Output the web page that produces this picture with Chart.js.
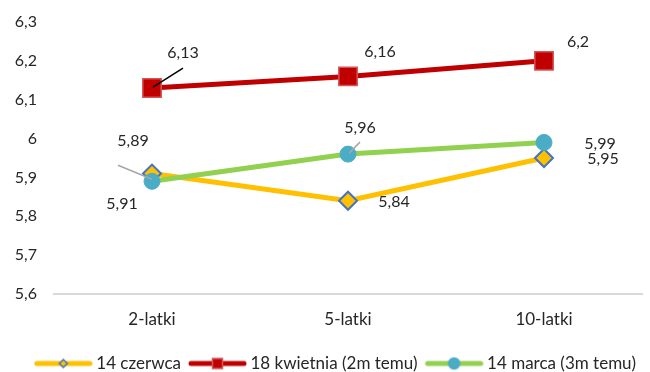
<!DOCTYPE html>
<html>
<head>
<meta charset="utf-8">
<script src="https://cdn.jsdelivr.net/npm/chart.js@4"></script>
<style>
  html, body { margin: 0; padding: 0; background: #fff; }
  #wrap { width: 650px; height: 372px; }
</style>
</head>
<body>
<div id="wrap"><canvas id="chart"></canvas></div>
<script>
var categories = ["2-latki", "5-latki", "10-latki"];
var seriesNames = ["14 czerwca", "18 kwietnia (2m temu)", "14 marca (3m temu)"];
var czerwiec = [5.91, 5.84, 5.95];
var kwiecien = [6.13, 6.16, 6.2];
var marzec = [5.89, 5.96, 5.99];
var yTicks = [5.6, 5.7, 5.8, 5.9, 6.0, 6.1, 6.2, 6.3];

// przesuniecia etykiet (dx, dy) i linie odniesienia
var labelOffsets = [
    [[-30, 30], [46, 1], [59, 1]],
    [[31, -35], [32, -25], [34, -19]],
    [[-19, -40], [12, -26], [56, 1]]
];
var leaders = [
    [null, null, null],
    [{from: [1, -1], to: [31, -20], color: "#000"}, null, null],
    [{from: [0, -2], to: [-34, -16], color: "#a6a6a6"}, {from: [1, -1], to: [12, -12], color: "#a6a6a6"}, null]
];

var FONT = "Lato";

function fmt(v) {
    return String(Math.round(v * 100) / 100).replace(".", ",");
}

// ikona legendy: linia + znacznik, przesunieta w prawo zeby tekst byl blisko
function legendIcon(color, style, fill, border, r) {
    var c = document.createElement("canvas");
    c.width = 65;
    c.height = 20;
    var ctx = c.getContext("2d");
    var x0 = 7, x1 = 64, cx = (x0 + x1) / 2;
    ctx.strokeStyle = color;
    ctx.lineWidth = 5;
    ctx.lineCap = "round";
    ctx.beginPath();
    ctx.moveTo(x0 + 2, 10);
    ctx.lineTo(x1 - 2, 10);
    ctx.stroke();
    ctx.fillStyle = fill;
    ctx.strokeStyle = border;
    ctx.lineWidth = 1.5;
    ctx.beginPath();
    if (style === "diamond") {
        ctx.moveTo(cx, 10 - r); ctx.lineTo(cx + r, 10); ctx.lineTo(cx, 10 + r); ctx.lineTo(cx - r, 10); ctx.closePath();
        ctx.fill();
    } else if (style === "square") {
        ctx.rect(cx - r, 10 - r, 2 * r, 2 * r);
        ctx.fill();
    } else {
        ctx.arc(cx, 10, r, 0, Math.PI * 2);
        ctx.fill();
    }
    ctx.stroke();
    return c;
}

var icons = [
    legendIcon("#FFC000", "diamond", "#FFC000", "#4472C4", 4),
    legendIcon("#C00000", "square", "#C00000", "#D45555", 5),
    legendIcon("#92D050", "circle", "#4BACC6", "#4BACC6", 5.5)
];

var dataLabels = {
    id: "dataLabels",
    afterDatasetsDraw: function(chart) {
        var ctx = chart.ctx;
        ctx.save();
        chart.data.datasets.forEach(function(ds, di) {
            var meta = chart.getDatasetMeta(di);
            meta.data.forEach(function(pt, i) {
                var ld = leaders[di][i];
                if (ld) {
                    ctx.strokeStyle = ld.color;
                    ctx.lineWidth = 1.5;
                    ctx.beginPath();
                    ctx.moveTo(pt.x + ld.from[0], pt.y + ld.from[1]);
                    ctx.lineTo(pt.x + ld.to[0], pt.y + ld.to[1]);
                    ctx.stroke();
                }
                var off = labelOffsets[di][i];
                ctx.fillStyle = "#262626";
                ctx.font = "16px " + FONT;
                ctx.textAlign = "center";
                ctx.textBaseline = "middle";
                ctx.fillText(fmt(ds.data[i]), pt.x + off[0], pt.y + off[1]);
            });
        });
        ctx.restore();
    }
};

new Chart(document.getElementById("chart"), {
    type: "line",
    data: {
        labels: categories,
        datasets: [{
            label: seriesNames[0],
            data: czerwiec,
            borderColor: "#FFC000",
            borderWidth: 5,
            pointStyle: "rectRot",
            pointRadius: 9,
            pointBackgroundColor: "#FFC000",
            pointBorderColor: "#4472C4",
            pointBorderWidth: 2,
            order: 2
        }, {
            label: seriesNames[1],
            data: kwiecien,
            borderColor: "#C00000",
            borderWidth: 5,
            pointStyle: "rect",
            pointRadius: 13,
            pointBackgroundColor: "#C00000",
            pointBorderColor: "#D45555",
            pointBorderWidth: 1.5,
            order: 1
        }, {
            label: seriesNames[2],
            data: marzec,
            borderColor: "#92D050",
            borderWidth: 5,
            pointStyle: "circle",
            pointRadius: 8,
            pointBackgroundColor: "#4BACC6",
            pointBorderColor: "#4BACC6",
            pointBorderWidth: 1,
            order: 0
        }]
    },
    options: {
        responsive: true,
        maintainAspectRatio: false,
        animation: false,
        layout: { autoPadding: false, padding: { left: 12, right: 8, top: 22, bottom: -10 } },
        plugins: {
            tooltip: { enabled: false },
            legend: {
                position: "bottom",
                align: "end",
                labels: {
                    usePointStyle: true,
                    pointStyleWidth: 55,
                    color: "#262626",
                    font: { family: FONT, size: 17 },
                    padding: 6,
                    generateLabels: function(chart) {
                        return chart.data.datasets.map(function(ds, i) {
                            return {
                                text: ds.label,
                                pointStyle: icons[i],
                                fillStyle: "transparent",
                                strokeStyle: "transparent",
                                lineWidth: 0,
                                datasetIndex: i,
                                fontColor: "#262626"
                            };
                        });
                    }
                }
            }
        },
        scales: {
            x: {
                offset: true,
                afterFit: function(scale) { scale.height = 55; },
                grid: { display: false, drawTicks: false },
                border: { color: "#D9D9D9", width: 2 },
                ticks: { color: "#262626", font: { family: FONT, size: 17 }, padding: 15 }
            },
            y: {
                min: 5.6,
                max: 6.3,
                afterBuildTicks: function(scale) {
                    scale.ticks = yTicks.map(function(v) { return { value: v }; });
                },
                afterFit: function(scale) {
                    scale.width = 42;
                    scale.paddingTop = 0;
                    scale.paddingBottom = 0;
                },
                grid: { display: false, drawTicks: false },
                border: { display: false },
                ticks: {
                    color: "#262626",
                    font: { family: FONT, size: 16 },
                    padding: 17,
                    callback: function(v) { return fmt(v); }
                }
            }
        }
    },
    plugins: [dataLabels]
});
</script>
</body>
</html>
